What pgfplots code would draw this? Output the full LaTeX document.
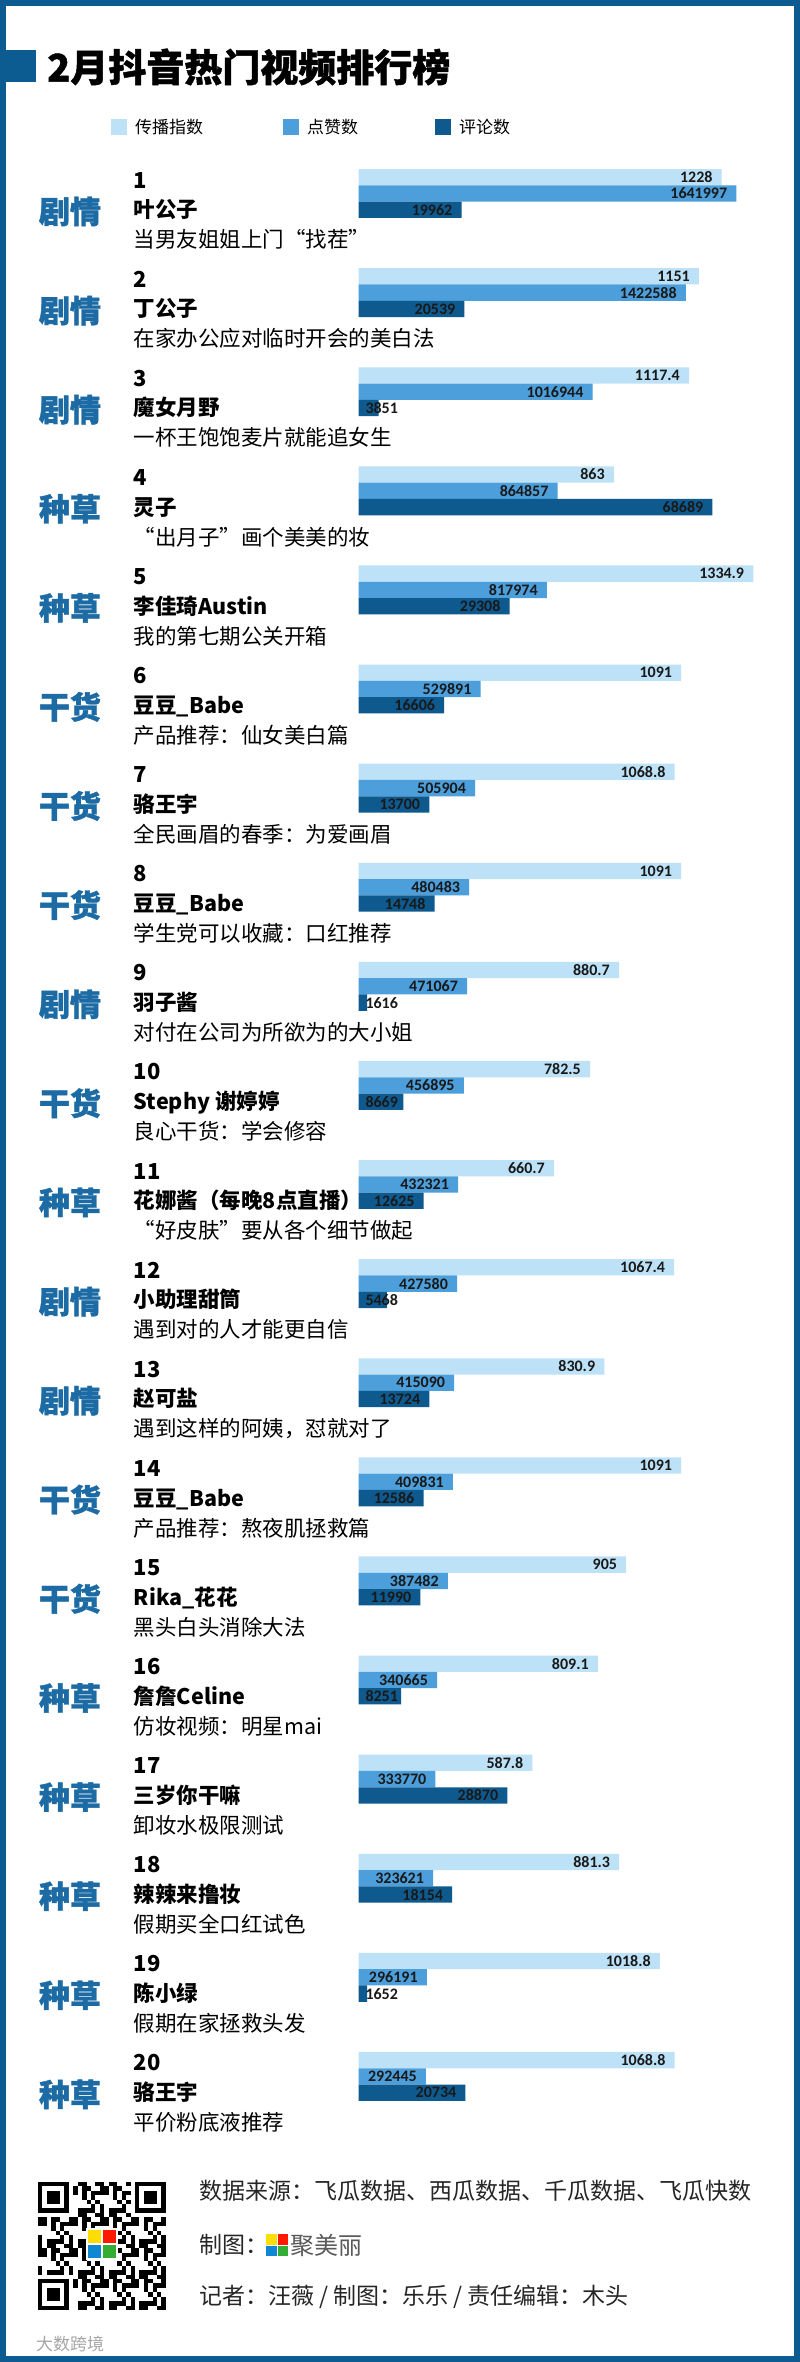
\documentclass[border=0pt]{standalone}
\usepackage{pgfplots}
\pgfplotsset{compat=1.18}
\usepackage{pgfplotstable}
\usepackage{fontspec}
\setmainfont{Noto Sans CJK SC}
\newfontfamily\heavy{Noto Sans CJK SC}[BoldFeatures={FakeBold=1.2}]
\newfontfamily\numfont{Carlito}

\definecolor{frameblue}{HTML}{0D5C91}
\definecolor{lightbar}{HTML}{BDE2F8}
\definecolor{midbar}{HTML}{4C9FDA}
\definecolor{darkbar}{HTML}{0E5A8F}
\definecolor{catblue}{HTML}{1D6BA4}

% rank, 传播指数, 点赞数, 评论数
\pgfplotstableread{
rank chuanbo dianzan pinglun
1 1228 1641997 19962
2 1151 1422588 20539
3 1117.4 1016944 3851
4 863 864857 68689
5 1334.9 817974 29308
6 1091 529891 16606
7 1068.8 505904 13700
8 1091 480483 14748
9 880.7 471067 1616
10 782.5 456895 8669
11 660.7 432321 12625
12 1067.4 427580 5468
13 830.9 415090 13724
14 1091 409831 12586
15 905 387482 11990
16 809.1 340665 8251
17 587.8 333770 28870
18 881.3 323621 18154
19 1018.8 296191 1652
20 1068.8 292445 20734
}\ranking

% label inside the bar end, or from the bar base when the bar is too short
\newlength\barlen
\newcommand\barlabel[2]{%
  \setbox0=\hbox{#1}%
  \barlen=\fpeval{#1*#2}pt\relax
  \ifdim\dimexpr\barlen-16pt\relax<\wd0
    \makebox[\dimexpr\barlen-7pt\relax][l]{\box0}%
  \else
    \box0\hspace*{9pt}%
  \fi}

% category | rank / name / subtitle
\newcommand\grp[4]{%
  \rlap{\raisebox{-29.7pt}[0pt][0pt]{\heavy\fontsize{31pt}{31pt}\selectfont\bfseries\color{catblue}#1}}%
  \hspace*{95pt}%
  \rlap{\raisebox{5.5pt}[0pt][0pt]{\fontsize{22pt}{22pt}\selectfont\bfseries #2}}%
  \rlap{\raisebox{-24.2pt}[0pt][0pt]{\fontsize{21.5pt}{21.5pt}\selectfont\bfseries #3}}%
  \rlap{\raisebox{-54.2pt}[0pt][0pt]{\fontsize{21.5pt}{21.5pt}\selectfont #4}}}

\pgfplotsset{
  rankaxis/.style={
    at={(358.7pt,-143.95pt)}, anchor=north west,
    scale only axis, width=401.3pt, height=1982pt,
    xmin=0, ymin=0.5, ymax=20.5, y dir=reverse,
    enlargelimits=false, clip=false,
    axis line style={draw=none}, tick style={draw=none},
    xtick=\empty, xbar, bar width=16.3pt,
  },
  barlbl/.style={
    draw=none, point meta=explicit symbolic,
    every node near coord/.append style={anchor=east, inner sep=0pt,
      text=black!90, font={\numfont\bfseries\fontsize{16pt}{16pt}\selectfont}},
  },
}

\begin{document}
\begin{tikzpicture}
\useasboundingbox (0,0) rectangle (800pt,-2362pt);
\fill[frameblue] (0,0) rectangle (800pt,-2362pt);
\fill[white] (6pt,-6pt) rectangle (794pt,-2356pt);

% title
\fill[frameblue] (0,-50pt) rectangle (36pt,-82pt);
\node[anchor=west, inner sep=0pt, font={\heavy\fontsize{38pt}{38pt}\selectfont\bfseries}]
  at (47pt,-67pt) {2月抖音热门视频排行榜};

% legend
\fill[lightbar] (111pt,-119pt) rectangle ++(16pt,-16pt);
\node[anchor=west, inner sep=0pt, font={\fontsize{17pt}{17pt}\selectfont}] at (135pt,-127pt) {传播指数};
\fill[midbar] (283pt,-119pt) rectangle ++(16pt,-16pt);
\node[anchor=west, inner sep=0pt, font={\fontsize{17pt}{17pt}\selectfont}] at (307pt,-127pt) {点赞数};
\fill[darkbar] (435pt,-119pt) rectangle ++(16pt,-16pt);
\node[anchor=west, inner sep=0pt, font={\fontsize{17pt}{17pt}\selectfont}] at (459pt,-127pt) {评论数};

% 传播指数
\begin{axis}[rankaxis, xmax=1357.58,
  ytick={1,...,20},
  yticklabel style={anchor=west, inner sep=0pt, xshift=-315.7pt},
  yticklabels={
    {\grp{剧情}{1}{叶公子}{当男友姐姐上门“找茬”}},
    {\grp{剧情}{2}{丁公子}{在家办公应对临时开会的美白法}},
    {\grp{剧情}{3}{魔女月野}{一杯王饱饱麦片就能追女生}},
    {\grp{种草}{4}{灵子}{“出月子”画个美美的妆}},
    {\grp{种草}{5}{李佳琦Austin}{我的第七期公关开箱}},
    {\grp{干货}{6}{豆豆\_Babe}{产品推荐：仙女美白篇}},
    {\grp{干货}{7}{骆王宇}{全民画眉的春季：为爱画眉}},
    {\grp{干货}{8}{豆豆\_Babe}{学生党可以收藏：口红推荐}},
    {\grp{剧情}{9}{羽子酱}{对付在公司为所欲为的大小姐}},
    {\grp{干货}{10}{Stephy 谢婷婷}{良心干货：学会修容}},
    {\grp{种草}{11}{花娜酱（每晚8点直播）}{“好皮肤”要从各个细节做起}},
    {\grp{剧情}{12}{小助理甜筒}{遇到对的人才能更自信}},
    {\grp{剧情}{13}{赵可盐}{遇到这样的阿姨，怼就对了}},
    {\grp{干货}{14}{豆豆\_Babe}{产品推荐：熬夜肌拯救篇}},
    {\grp{干货}{15}{Rika\_花花}{黑头白头消除大法}},
    {\grp{种草}{16}{詹詹Celine}{仿妆视频：明星mai}},
    {\grp{种草}{17}{三岁你干嘛}{卸妆水极限测试}},
    {\grp{种草}{18}{辣辣来撸妆}{假期买全口红试色}},
    {\grp{种草}{19}{陈小绿}{假期在家拯救头发}},
    {\grp{种草}{20}{骆王宇}{平价粉底液推荐}},
  }]
\addplot[barlbl, fill=lightbar, bar shift=16.3pt,
  nodes near coords={\barlabel{\pgfplotspointmeta}{0.2956}}]
  table[x=chuanbo, y=rank, meta=chuanbo] {\ranking};
\end{axis}

% 点赞数
\begin{axis}[rankaxis, xmax=1744783, ytick=\empty]
\addplot[barlbl, fill=midbar, bar shift=0pt,
  nodes near coords={\barlabel{\pgfplotspointmeta}{0.00023}}]
  table[x=dianzan, y=rank, meta=dianzan] {\ranking};
\end{axis}

% 评论数
\begin{axis}[rankaxis, xmax=77922.3, ytick=\empty]
\addplot[barlbl, fill=darkbar, bar shift=-16.3pt,
  nodes near coords={\barlabel{\pgfplotspointmeta}{0.00515}}]
  table[x=pinglun, y=rank, meta=pinglun] {\ranking};
\end{axis}

% footer: QR code stand-in
\fill[white] (38pt,-2182pt) rectangle (166pt,-2310pt);
\foreach \i in {0,...,28}{
  \foreach \j in {0,...,28}{
    \pgfmathtruncatemacro\on{mod(3*\i*\i+7*\j+\i*\j+2*\j*\j+\i,7)<3 ? 1 : 0}
    \pgfmathtruncatemacro\skip{((\i<8 && \j<8) || (\i>20 && \j<8) || (\i<8 && \j>20) || (\i>10 && \i<18 && \j>10 && \j<18)) ? 1 : 0}
    \ifnum\on=1 \ifnum\skip=0
      \fill (38pt+\i*4.41pt,-2182pt-\j*4.41pt) rectangle ++(4.41pt,-4.41pt);
    \fi\fi
  }}
\foreach \fx/\fy in {38/2182, 135.02/2182, 38/2279.02}{
  \fill (\fx pt,-\fy pt) rectangle ++(30.87pt,-30.87pt);
  \fill[white] (\fx pt+4.41pt,-\fy pt-4.41pt) rectangle ++(22.05pt,-22.05pt);
  \fill (\fx pt+8.82pt,-\fy pt-8.82pt) rectangle ++(13.23pt,-13.23pt);
}
\fill[white] (86pt,-2228pt) rectangle (118pt,-2260pt);
\fill[yellow!80!orange] (88pt,-2230pt) rectangle ++(13pt,-13pt);
\fill[red!80!orange] (103pt,-2230pt) rectangle ++(13pt,-13pt);
\fill[cyan!70!blue] (88pt,-2245pt) rectangle ++(13pt,-13pt);
\fill[green!60!black!80] (103pt,-2245pt) rectangle ++(13pt,-13pt);

% footer text
\node[anchor=west, inner sep=0pt, text=black!85, font={\fontsize{23pt}{23pt}\selectfont}]
  at (199pt,-2191pt) {数据来源：飞瓜数据、西瓜数据、千瓜数据、飞瓜快数};
\node[anchor=west, inner sep=0pt, text=black!85, font={\fontsize{23pt}{23pt}\selectfont}]
  at (199pt,-2245pt) {制图：};
\fill[yellow!80!orange] (266pt,-2234pt) rectangle ++(10.5pt,-10.5pt);
\fill[red!80!orange] (277.5pt,-2234pt) rectangle ++(10.5pt,-10.5pt);
\fill[cyan!70!blue] (266pt,-2245.5pt) rectangle ++(10.5pt,-10.5pt);
\fill[green!60!black!80] (277.5pt,-2245.5pt) rectangle ++(10.5pt,-10.5pt);
\node[anchor=west, inner sep=0pt, text=black!65, font={\fontsize{24pt}{24pt}\selectfont}]
  at (290pt,-2245pt) {聚美丽};
\node[anchor=west, inner sep=0pt, text=black!85, font={\fontsize{23pt}{23pt}\selectfont}]
  at (199pt,-2297pt) {记者：汪薇 / 制图：乐乐 / 责任编辑：木头};
\node[anchor=west, inner sep=0pt, text=black!35, font={\fontsize{17pt}{17pt}\selectfont}]
  at (36pt,-2344pt) {大数跨境};
\end{tikzpicture}
\end{document}
